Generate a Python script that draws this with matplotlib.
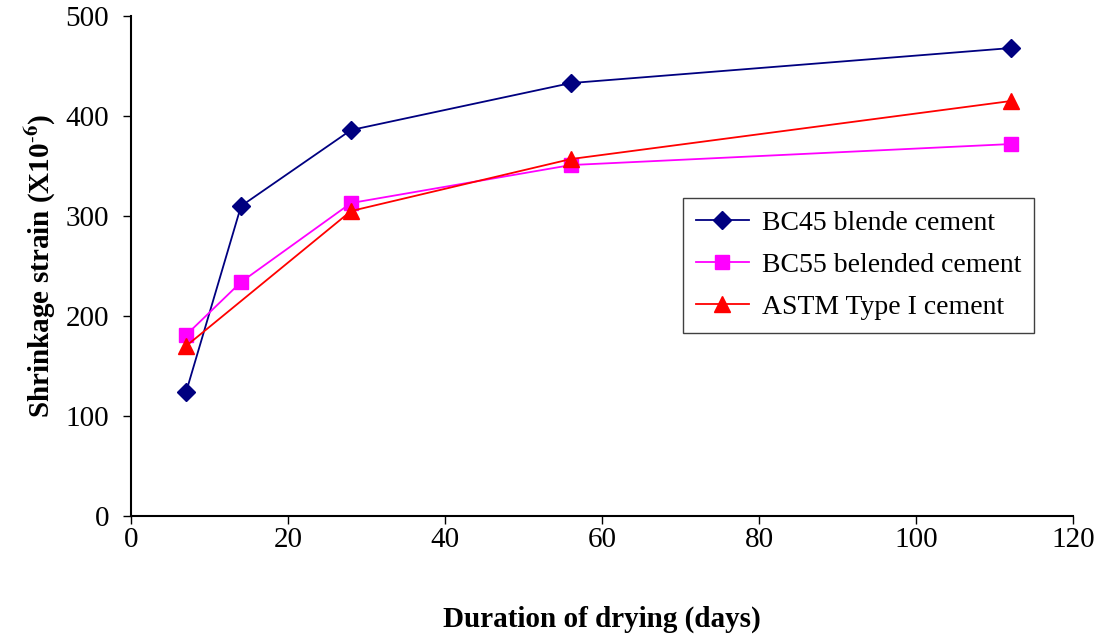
import matplotlib
matplotlib.use("Agg")
import matplotlib.pyplot as plt

plt.rcParams['font.family'] = ['Liberation Serif', 'DejaVu Serif']
plt.rcParams['mathtext.fontset'] = 'stix'

days = [7, 14, 28, 56, 112]
bc45 = [124, 310, 386, 433, 468]
bc55 = [181, 234, 313, 351, 372]
astm_days = [7, 28, 56, 112]
astm = [170, 305, 357, 415]

fig = plt.figure(figsize=(11.02, 6.43), dpi=100)
ax = fig.add_axes([0.119, 0.1975, 0.855, 0.7775])

ax.plot(days, bc45, color='#000080', marker='D', markersize=9, linewidth=1.3,
        label='BC45 blende cement')
ax.plot(days, bc55, color='#FF00FF', marker='s', markersize=10, linewidth=1.3,
        label='BC55 belended cement')
ax.plot(astm_days, astm, color='#FF0000', marker='^', markersize=11, linewidth=1.3,
        label='ASTM Type I cement')

ax.set_xlim(0, 120)
ax.set_ylim(0, 500)
ax.set_xticks(range(0, 121, 20))
ax.set_yticks(range(0, 501, 100))
ax.tick_params(labelsize=21, direction='out', length=6, width=1)
ax.tick_params(axis='y', pad=10)
ax.tick_params(axis='x', pad=2)
ax.spines['top'].set_visible(False)
ax.spines['right'].set_visible(False)
ax.spines['left'].set_linewidth(1.5)
ax.spines['bottom'].set_linewidth(1.5)

ax.set_xlabel('Duration of drying (days)', fontsize=21, fontweight='bold', labelpad=38)
ax.set_ylabel(r'Shrinkage strain (X10$^{\mathbf{\text{-}6}}$)', fontsize=21, fontweight='bold', labelpad=6)

leg = ax.legend(loc='upper left', bbox_to_anchor=(0.62, 0.692), bbox_transform=fig.transFigure,
                borderaxespad=0, fontsize=20, fancybox=False, edgecolor='#404040', framealpha=1,
                handlelength=1.9, labelspacing=0.6, borderpad=0.45, handletextpad=0.5)
leg.get_frame().set_linewidth(1)

fig.savefig('out.png', dpi=100)
